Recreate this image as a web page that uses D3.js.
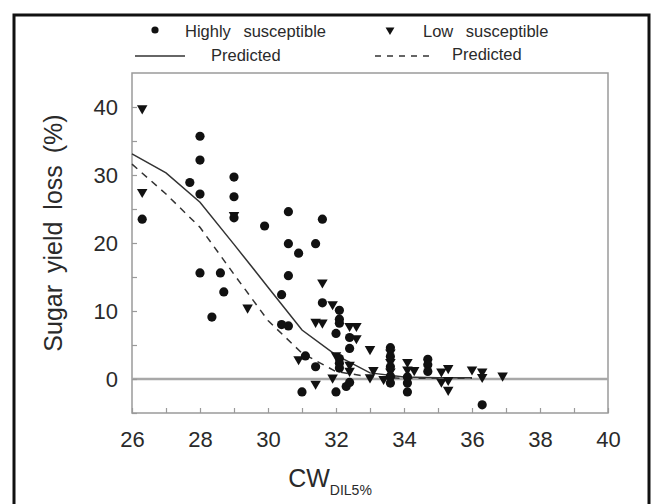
<!DOCTYPE html>
<html>
<head>
<meta charset="UTF-8">
<script src="https://cdnjs.cloudflare.com/ajax/libs/d3/7.8.5/d3.min.js"></script>
<style>
  body { margin: 0; background: #fff; }
  svg { font-family: "Liberation Sans", Arial, sans-serif; }
</style>
</head>
<body>
<div id="chart"></div>
<script>
// Highly susceptible (circles)
var highX = [26.3, 28.0, 28.0, 27.7, 28.0, 29.0, 29.0, 29.0, 28.0, 28.6, 28.7, 28.35,
             30.6, 29.9, 31.6, 30.6, 30.9, 31.4, 30.6, 30.4, 31.6, 32.1, 30.4, 30.6,
             32.1, 32.1, 32.0, 32.4, 32.4, 31.1, 31.4, 32.1, 32.1, 32.1, 31.0, 32.0,
             32.3, 32.4, 33.6, 33.6, 33.6, 33.6, 33.6, 34.1, 34.1, 34.1, 34.7, 34.7,
             34.7, 36.3];
var highY = [23.5, 35.7, 32.2, 28.9, 27.2, 29.7, 26.8, 23.7, 15.6, 15.6, 12.8, 9.1,
             24.6, 22.5, 23.5, 19.9, 18.5, 19.9, 15.2, 12.4, 11.2, 10.1, 8.0, 7.8,
             8.8, 8.2, 6.7, 6.1, 4.5, 3.4, 1.8, 3.0, 2.3, 1.6, -1.9, -1.9,
             -1.1, -0.5, 4.6, 3.3, 1.8, 0.4, -0.6, 0.3, -0.6, -1.9, 2.9, 2.1,
             1.1, -3.8];

// Low susceptible (triangles)
var lowX = [26.3, 26.3, 29.0, 29.4, 31.6, 31.9, 31.4, 31.6, 32.4, 32.6, 32.6, 33.0,
            30.9, 32.0, 32.4, 32.4, 33.0, 33.1, 31.9, 31.4, 33.4, 33.6, 33.6, 33.6,
            33.6, 34.1, 34.1, 34.3, 35.1, 35.3, 35.1, 35.3, 35.3, 36.0, 36.3, 36.3,
            36.9];
var lowY = [39.8, 27.5, 24.1, 10.5, 14.2, 11.0, 8.4, 8.3, 7.8, 7.8, 6.0, 4.4,
            2.9, 3.5, 2.1, 1.2, 0.25, 1.3, 0.2, -0.7, 0.0, 3.9, 2.5, 1.1,
            0.0, 2.5, 1.4, 1.3, 1.1, 1.6, -0.4, -0.15, -1.6, 1.4, 1.1, 0.3,
            0.5];

// Predicted curves
var predX = [26, 27, 28, 29, 30, 31, 32, 33, 34, 35, 36];
var predHigh = [33.1, 30.3, 26.0, 19.8, 13.5, 7.2, 3.5, 0.9, 0.3, 0.2, 0.2];
var predLow = [31.6, 27.2, 22.3, 15.4, 8.6, 3.8, 1.1, 0.3, 0.1, 0.1, 0.1];

var xTicks = [26, 27, 28, 29, 30, 31, 32, 33, 34, 35, 36, 37, 38, 39, 40];
var yTicks = [-5, 0, 5, 10, 15, 20, 25, 30, 35, 40];

var W = 660, H = 504;
var svg = d3.select('#chart').append('svg').attr('width', W).attr('height', H);

// outer frame
svg.append('rect')
   .attr('x', 14).attr('y', 15).attr('width', 635).attr('height', 500)
   .attr('fill', 'none').attr('stroke', '#111').attr('stroke-width', 3);

var x = d3.scaleLinear().domain([26, 40]).range([132, 608]);
var y = d3.scaleLinear().domain([-5, 45]).range([413, 73]);

// plot box
svg.append('rect')
   .attr('x', x(26)).attr('y', y(45))
   .attr('width', x(40) - x(26)).attr('height', y(-5) - y(45))
   .attr('fill', 'none').attr('stroke', '#9a9a9a').attr('stroke-width', 1.5);

// zero line
svg.append('line')
   .attr('x1', x(26)).attr('x2', x(40)).attr('y1', y(0)).attr('y2', y(0))
   .attr('stroke', '#a8a8a8').attr('stroke-width', 2.5);

var xAxis = d3.axisBottom(x).tickValues(xTicks)
              .tickSizeInner(-5).tickSizeOuter(0).tickPadding(18)
              .tickFormat(function (d) { return d % 2 === 0 ? d : ''; });
var gx = svg.append('g').attr('transform', 'translate(0,' + y(-5) + ')').call(xAxis);
gx.select('.domain').remove();
gx.selectAll('line').attr('stroke', '#9a9a9a').attr('stroke-width', 1.2);
gx.selectAll('text').attr('font-size', 22).attr('fill', '#2a2a2a');

var yAxis = d3.axisLeft(y).tickValues(yTicks)
              .tickSizeInner(-5).tickSizeOuter(0).tickPadding(14)
              .tickFormat(function (d) { return d % 10 === 0 && d >= 0 ? d : ''; });
var gy = svg.append('g').attr('transform', 'translate(' + x(26) + ',0)').call(yAxis);
gy.select('.domain').remove();
gy.selectAll('line').attr('stroke', '#9a9a9a').attr('stroke-width', 1.2);
gy.selectAll('text').attr('font-size', 22).attr('fill', '#2a2a2a');

// predicted lines
var line = d3.line().x(function (d) { return x(d[0]); }).y(function (d) { return y(d[1]); });
svg.append('path')
   .attr('d', line(predX.map(function (v, i) { return [v, predHigh[i]]; })))
   .attr('fill', 'none').attr('stroke', '#333').attr('stroke-width', 1.5);
svg.append('path')
   .attr('d', line(predX.map(function (v, i) { return [v, predLow[i]]; })))
   .attr('fill', 'none').attr('stroke', '#333').attr('stroke-width', 1.5)
   .attr('stroke-dasharray', '7,6');

// points
var tri = d3.symbol().type(d3.symbolTriangle).size(48);
svg.append('g').selectAll('path')
   .data(lowX.map(function (v, i) { return [v, lowY[i]]; }))
   .enter().append('path')
   .attr('d', tri)
   .attr('transform', function (d) { return 'translate(' + x(d[0]) + ',' + y(d[1]) + ') rotate(180)'; })
   .attr('fill', '#111');

svg.append('g').selectAll('circle')
   .data(highX.map(function (v, i) { return [v, highY[i]]; }))
   .enter().append('circle')
   .attr('cx', function (d) { return x(d[0]); })
   .attr('cy', function (d) { return y(d[1]); })
   .attr('r', 4.6)
   .attr('fill', '#111');

// axis titles
svg.append('text')
   .attr('transform', 'translate(62,233) rotate(-90)')
   .attr('text-anchor', 'middle')
   .attr('font-size', 25).attr('fill', '#2a2a2a')
   .attr('word-spacing', 5)
   .text('Sugar yield loss (%)');

var xt = svg.append('text')
   .attr('x', 330).attr('y', 487)
   .attr('text-anchor', 'middle')
   .attr('font-size', 25).attr('fill', '#2a2a2a');
xt.append('tspan').text('CW');
xt.append('tspan').attr('font-size', 14).attr('dy', 8).text('DIL5%');

// legend
var lg = svg.append('g').attr('font-size', 16.5).attr('fill', '#2a2a2a').attr('word-spacing', 8);
lg.append('circle').attr('cx', 155).attr('cy', 30).attr('r', 3.6).attr('fill', '#111');
lg.append('text').attr('x', 185).attr('y', 37).text('Highly susceptible');
lg.append('path').attr('d', d3.symbol().type(d3.symbolTriangle).size(34))
  .attr('transform', 'translate(390,30) rotate(180)').attr('fill', '#111');
lg.append('text').attr('x', 423).attr('y', 37).text('Low susceptible');
lg.append('line').attr('x1', 135).attr('x2', 185).attr('y1', 56).attr('y2', 56)
  .attr('stroke', '#333').attr('stroke-width', 1.3);
lg.append('text').attr('x', 211).attr('y', 61).text('Predicted');
lg.append('line').attr('x1', 375).attr('x2', 430).attr('y1', 56).attr('y2', 56)
  .attr('stroke', '#333').attr('stroke-width', 1.3).attr('stroke-dasharray', '6,6');
lg.append('text').attr('x', 452).attr('y', 60).text('Predicted');
</script>
</body>
</html>
